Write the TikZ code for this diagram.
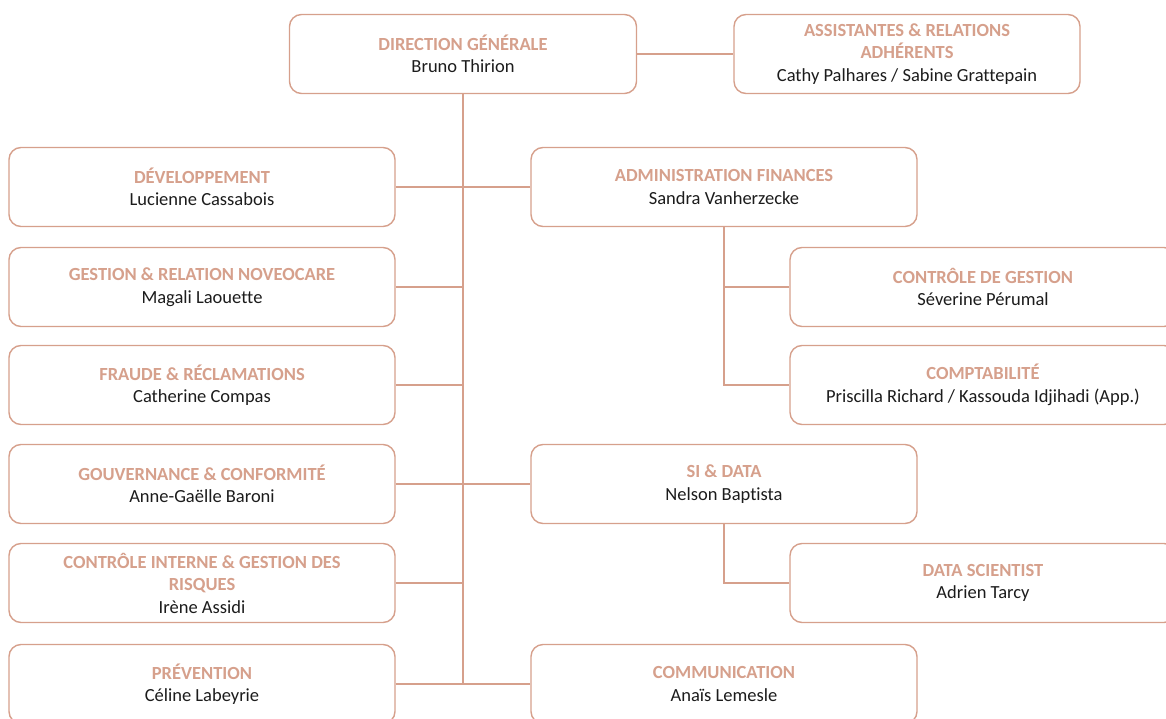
\documentclass[tikz,border=0pt]{standalone}
\usepackage{fontspec}
\setmainfont{Carlito}[Ligatures=NoCommon]
\definecolor{rose}{RGB}{214,160,140}
\definecolor{ink}{RGB}{28,28,28}
\newcommand{\poste}[2]{\textcolor{rose}{\bfseries #1}\\#2}
\newcommand{\postelong}[3]{\textcolor{rose}{\bfseries #1}\\\textcolor{rose}{\bfseries #2}\\#3}
\tikzset{
    post/.style={draw=rose,line width=1.4pt,rounded corners=12pt,fill=white,
        minimum width=386pt,minimum height=79pt,inner sep=0pt,align=center,
        text=ink,font=\fontsize{18.5}{22.5}\selectfont},
    link/.style={draw=rose,line width=1.6pt}
}

\begin{document}
\begin{tikzpicture}[x=1pt,y=-1pt]
    \useasboundingbox (0,0) rectangle (1166,719);
    \clip (0,0) rectangle (1166,719);

    \node[post,minimum width=347pt] (1) at (463,54) {\poste{DIRECTION GÉNÉRALE}{Bruno Thirion}};
    \node[post,minimum width=346pt] (2) at (907,54) {\postelong{ASSISTANTES \& RELATIONS}{ADHÉRENTS}{Cathy Palhares / Sabine Grattepain}};

    \node[post] (3) at (202,187) {\poste{DÉVELOPPEMENT}{Lucienne Cassabois}};
    \node[post] (4) at (202,287) {\poste{GESTION \& RELATION NOVEOCARE}{Magali Laouette}};
    \node[post] (5) at (202,385) {\poste{FRAUDE \& RÉCLAMATIONS}{Catherine Compas}};
    \node[post] (6) at (202,484) {\poste{GOUVERNANCE \& CONFORMITÉ}{Anne-Gaëlle Baroni}};
    \node[post] (7) at (202,583) {\postelong{CONTRÔLE INTERNE \& GESTION DES}{RISQUES}{Irène Assidi}};
    \node[post] (8) at (202,684) {\poste{PRÉVENTION}{Céline Labeyrie}};

    \node[post] (9) at (724,187) {\poste{ADMINISTRATION FINANCES}{Sandra Vanherzecke}};
    \node[post] (9a) at (983,287) {\poste{CONTRÔLE DE GESTION}{Séverine Pérumal}};
    \node[post] (9b) at (983,385) {\poste{COMPTABILITÉ}{Priscilla Richard / Kassouda Idjihadi (App.)}};
    \node[post] (10) at (724,484) {\poste{SI \& DATA}{Nelson Baptista}};
    \node[post] (10a) at (983,583) {\poste{DATA SCIENTIST}{Adrien Tarcy}};
    \node[post] (11) at (724,684) {\poste{COMMUNICATION}{Anaïs Lemesle}};

    \path[link]
	(1) edge[link] (2)
	(1.south) edge[link] (8.east -| 1.south)
	(3) edge[link] (3 -| 1.south)
	(4) edge[link] (4 -| 1.south)
	(5) edge[link] (5 -| 1.south)
	(6) edge[link] (6 -| 1.south)
	(7) edge[link] (7 -| 1.south)
	(8) edge[link] (8 -| 1.south)
	(9) edge[link] (9 -| 1.south)
	(10) edge[link] (10 -| 1.south)
	(11) edge[link] (11 -| 1.south);

    \draw[link] (9.south) |- (9a.west);
    \draw[link] (9.south) |- (9b.west);
    \draw[link] (10.south) |- (10a.west);
\end{tikzpicture}
\end{document}
